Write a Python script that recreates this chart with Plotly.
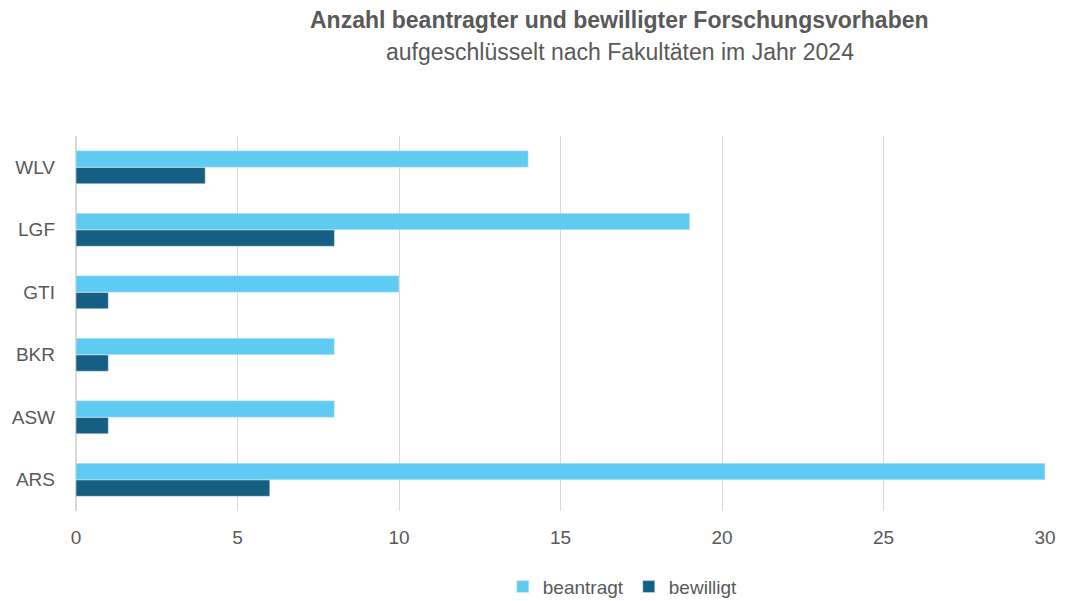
import plotly.graph_objects as go

faculties = ['ARS', 'ASW', 'BKR', 'GTI', 'LGF', 'WLV']
beantragt = [30, 8, 8, 10, 19, 14]
bewilligt = [6, 1, 1, 1, 8, 4]

TEXT = '#595959'
FONT = 'Arial, Liberation Sans, sans-serif'

fig = go.Figure()
# bewilligt first so that it sits below beantragt inside each group
fig.add_trace(go.Bar(y=faculties, x=bewilligt, name='bewilligt', orientation='h',
                     marker=dict(color='#155F82')))
fig.add_trace(go.Bar(y=faculties, x=beantragt, name='beantragt', orientation='h',
                     marker=dict(color='#5FCBF3')))

# the page has an 8px body margin, so the figure is a bit smaller than the window
fig.update_layout(
    width=1060, height=593,
    barmode='group', bargap=0.47, bargroupgap=0,
    paper_bgcolor='white', plot_bgcolor='white',
    font=dict(family=FONT, color=TEXT, size=19),
    margin=dict(l=68, r=23, t=128, b=90, autoexpand=False),
    showlegend=True,
    legend=dict(orientation='h', x=0.58, xanchor='center', xref='container',
                y=0.024, yanchor='middle', yref='container',
                traceorder='reversed', itemwidth=30, font=dict(size=19, color=TEXT)),
)
fig.add_annotation(text='<b>Anzahl beantragter und bewilligter Forschungsvorhaben</b>',
                   xref='paper', yref='paper', x=0.561, y=1.309, xanchor='center', yanchor='middle',
                   showarrow=False, font=dict(size=23, color=TEXT, family=FONT))
fig.add_annotation(text='aufgeschlüsselt nach Fakultäten im Jahr 2024',
                   xref='paper', yref='paper', x=0.561, y=1.224, xanchor='center', yanchor='middle',
                   showarrow=False, font=dict(size=23, color=TEXT, family=FONT))
fig.update_xaxes(range=[0, 30], dtick=5, showgrid=True, gridcolor='#D9D9D9', gridwidth=1,
                 zeroline=True, zerolinecolor='#D9D9D9', showline=False, automargin=False,
                 ticks='', ticklabelstandoff=13, tickfont=dict(size=19, color=TEXT))
fig.update_yaxes(showgrid=False, showline=False, ticks='', automargin=False,
                 ticklabelstandoff=20, tickfont=dict(size=19, color=TEXT))

fig.write_html('out.html')
